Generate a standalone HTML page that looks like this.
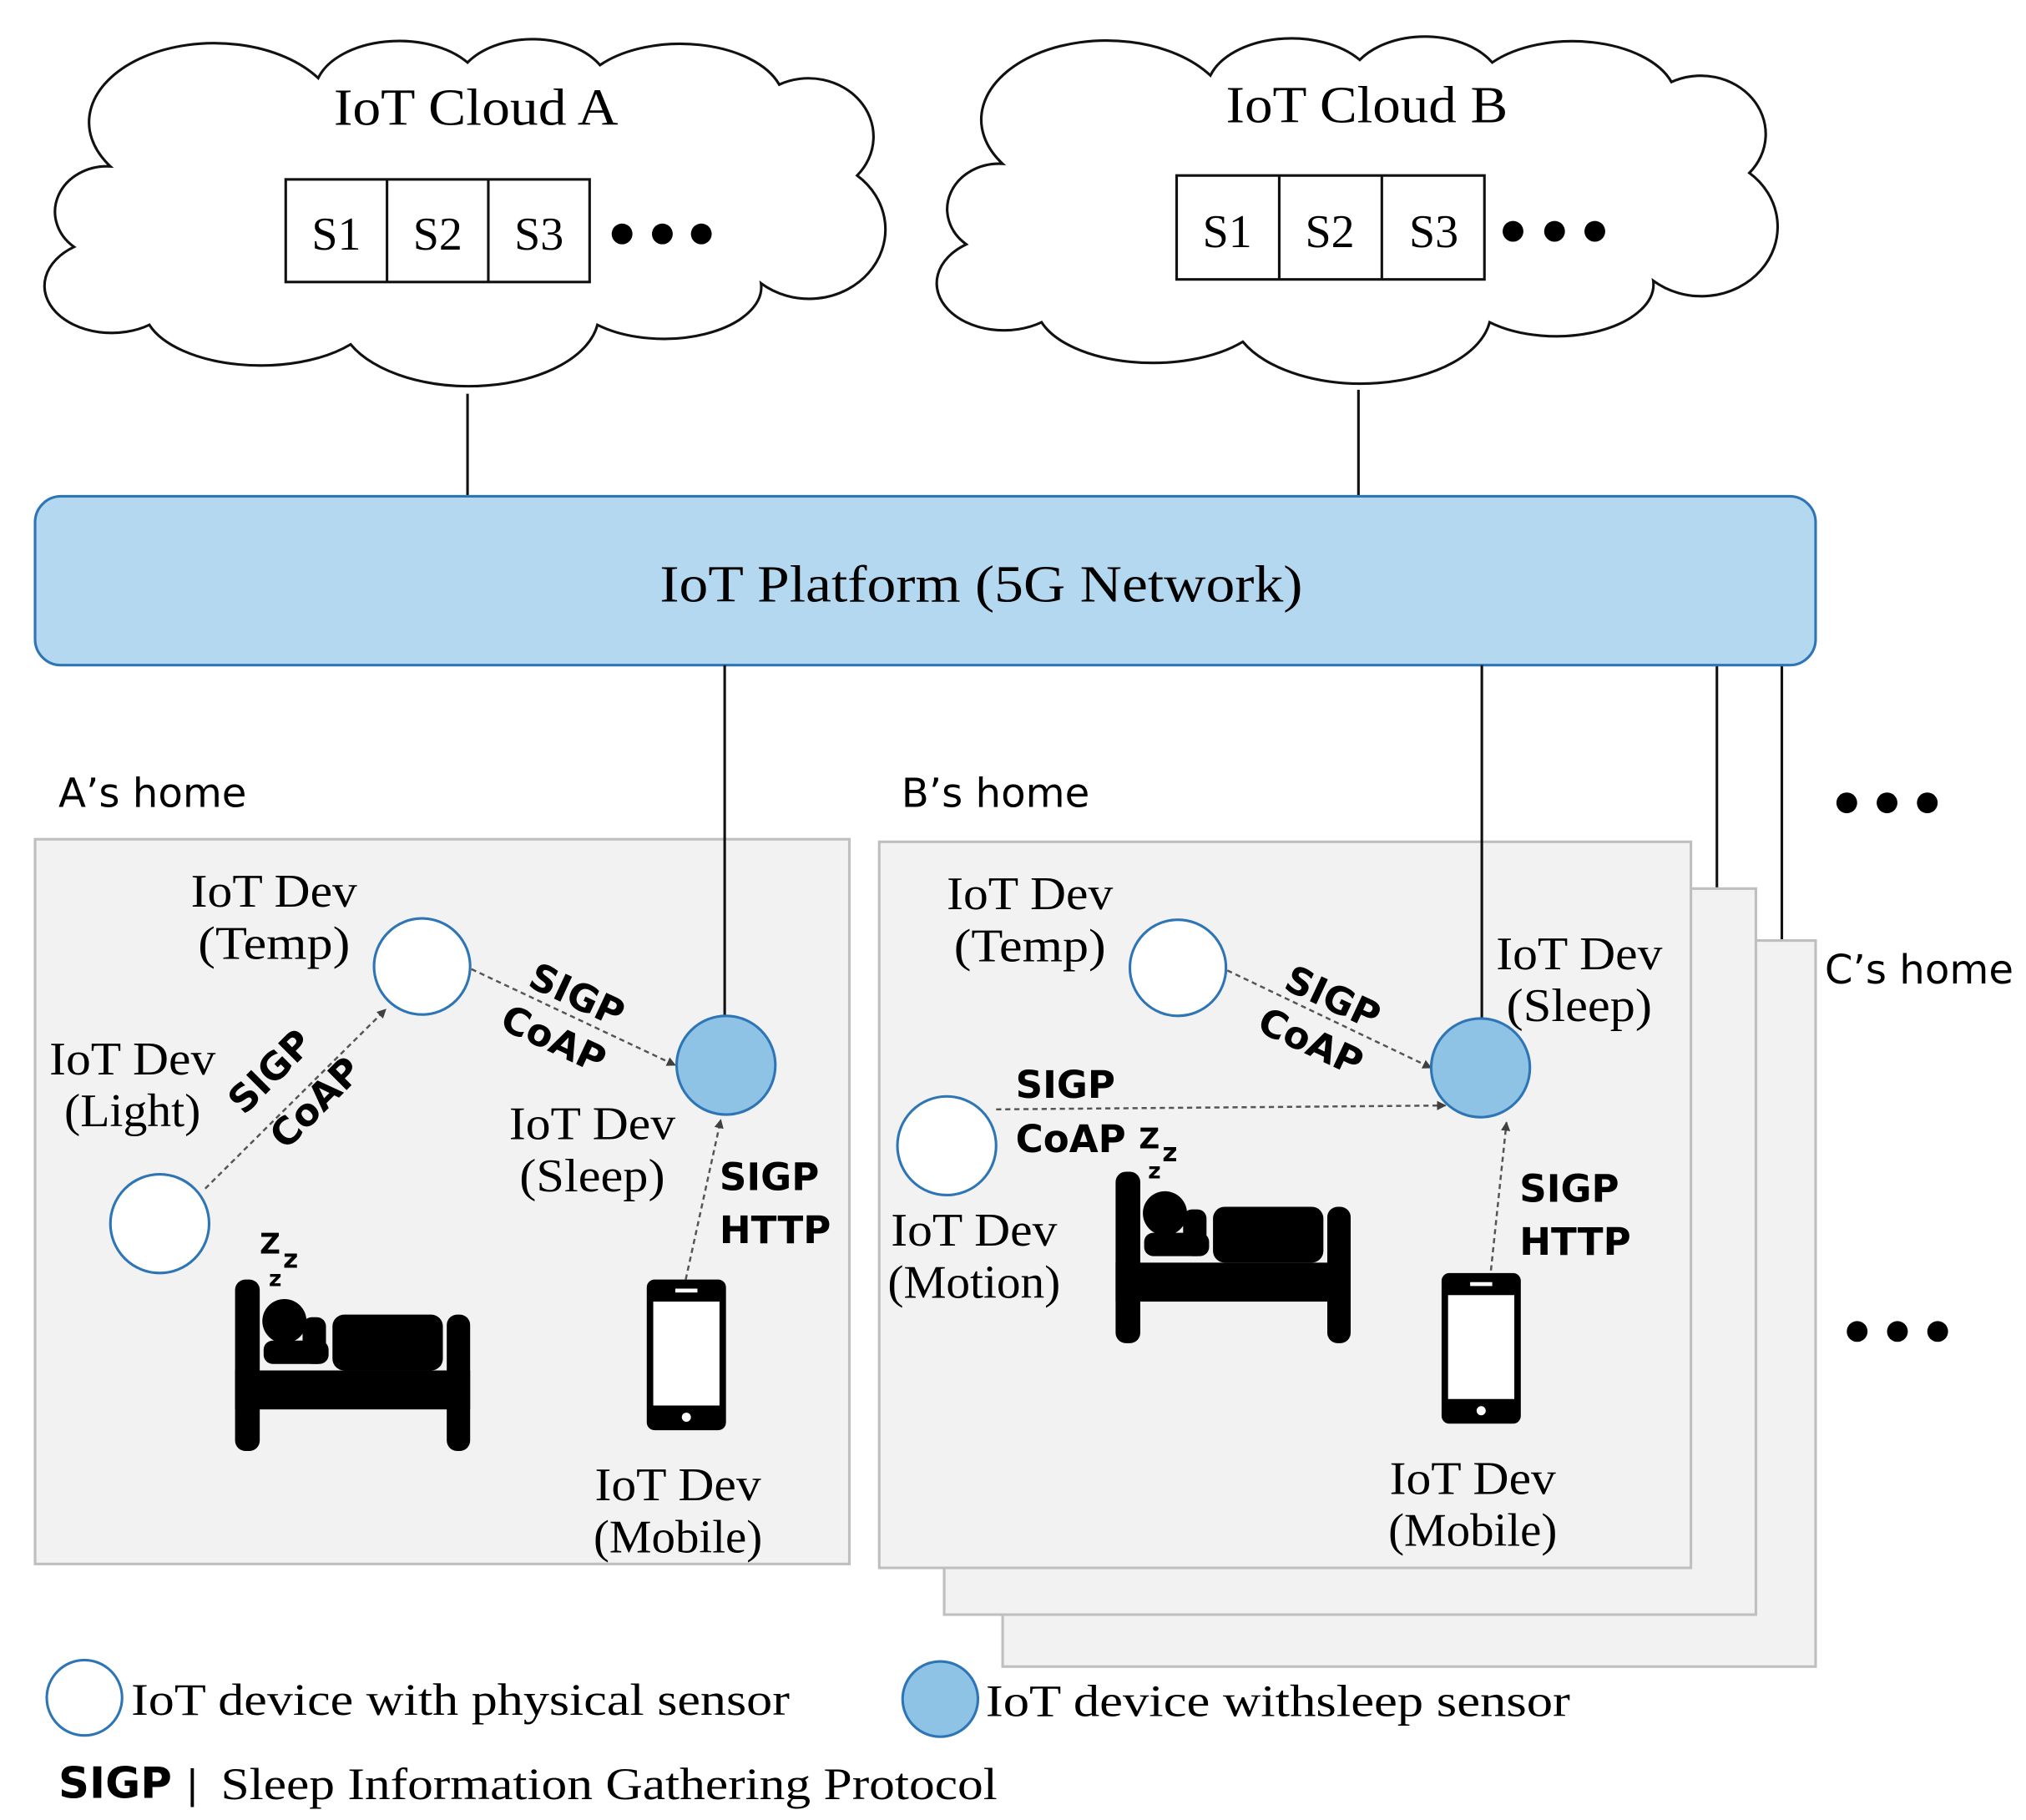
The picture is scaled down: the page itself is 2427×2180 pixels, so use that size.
<!DOCTYPE html>
<html><head><meta charset="utf-8"><style>
html,body{margin:0;padding:0;background:#fff;}
svg{display:block;}
.serif{font-family:"Liberation Serif",serif;}
.sans{font-family:"DejaVu Sans","Liberation Sans",sans-serif;}
</style></head><body>
<svg width="2427" height="2180" viewBox="0 0 1560 1401" xmlns="http://www.w3.org/2000/svg">
<defs>
<marker id="ar" viewBox="0 0 10 10" refX="9" refY="5" markerWidth="4.5" markerHeight="4.5" orient="auto"><path d="M0,0 L10,5 L0,10 z" fill="#404040"/></marker>
<g id="cloud">
<path d="M57,190 A40,35 0 0 1 85,128 A95,60 0 0 1 245,60 A65,40 0 0 1 360,48 A60,40 0 0 1 462,50 A80,45 0 0 1 600,65 A50,45 0 0 1 660,135 A55,50 0 0 1 586,218 A75,40 0 0 1 460,250 A100,55 0 0 1 270,265 A90,45 0 0 1 115,250 A50,35 0 0 1 57,190 Z" fill="#fff" stroke="#111" stroke-width="2"/>
</g>
<g id="bed">
<rect x="0" y="35" width="19" height="132" rx="8" fill="#000"/>
<rect x="0" y="105" width="181" height="30" fill="#000"/>
<rect x="163" y="62" width="18" height="105" rx="8" fill="#000"/>
<rect x="75" y="62" width="85" height="43" rx="9" fill="#000"/>
<circle cx="38" cy="67" r="17" fill="#000"/>
<rect x="22" y="82" width="50" height="18" rx="7" fill="#000"/>
<rect x="52" y="64" width="18" height="36" rx="7" fill="#000"/>
</g>
<g id="phone">
<rect x="0" y="0" width="61" height="116" rx="6" fill="#000"/>
<rect x="5" y="17" width="51" height="80" fill="#fff"/>
<rect x="22" y="7" width="17" height="3" fill="#fff"/>
<circle cx="30.5" cy="106" r="3.5" fill="#fff"/>
</g>
</defs>

<use href="#cloud"/>
<use href="#cloud" transform="translate(687,-2)"/>
<text x="257" y="96" class="serif" font-size="40" textLength="219" lengthAdjust="spacingAndGlyphs">IoT Cloud A</text>
<text x="944" y="94" class="serif" font-size="40" textLength="217" lengthAdjust="spacingAndGlyphs">IoT Cloud B</text>
<g fill="none" stroke="#111" stroke-width="2">
<rect x="220" y="138" width="234" height="79"/><line x1="298" y1="138" x2="298" y2="217"/><line x1="376" y1="138" x2="376" y2="217"/>
<rect x="906" y="135" width="237" height="80"/><line x1="985" y1="135" x2="985" y2="215"/><line x1="1064" y1="135" x2="1064" y2="215"/>
</g>
<g class="serif" font-size="36" text-anchor="middle">
<text x="259" y="192">S1</text><text x="337" y="192">S2</text><text x="415" y="192">S3</text>
<text x="945" y="190">S1</text><text x="1024" y="190">S2</text><text x="1104" y="190">S3</text>
</g>
<g fill="#000">
<circle cx="479" cy="180" r="8"/><circle cx="510" cy="180" r="8"/><circle cx="540" cy="180" r="8"/>
<circle cx="1165" cy="178" r="8"/><circle cx="1197" cy="178" r="8"/><circle cx="1228" cy="178" r="8"/>
<circle cx="1422" cy="618" r="8"/><circle cx="1453" cy="618" r="8"/><circle cx="1484" cy="618" r="8"/>
<circle cx="1430" cy="1025" r="8"/><circle cx="1461" cy="1025" r="8"/><circle cx="1492" cy="1025" r="8"/>
</g>

<g stroke="#111" stroke-width="2">
<line x1="360" y1="303" x2="360" y2="383"/>
<line x1="1046" y1="300" x2="1046" y2="383"/>
<line x1="1322" y1="511" x2="1322" y2="684"/>
<line x1="1372" y1="511" x2="1372" y2="724"/>
</g>

<rect x="27" y="382" width="1371" height="130" rx="20" fill="#b4d8ef" stroke="#2e75b6" stroke-width="2"/>
<text x="508" y="463" class="serif" font-size="40" textLength="495" lengthAdjust="spacingAndGlyphs">IoT Platform  (5G Network)</text>

<rect x="772" y="724" width="626" height="559" fill="#f2f2f2" stroke="#bfbfbf" stroke-width="2"/>
<rect x="727" y="684" width="625" height="559" fill="#f2f2f2" stroke="#bfbfbf" stroke-width="2"/>
<rect x="677" y="648" width="625" height="559" fill="#f2f2f2" stroke="#bfbfbf" stroke-width="2"/>
<rect x="27" y="646" width="627" height="558" fill="#f2f2f2" stroke="#bfbfbf" stroke-width="2"/>
<g class="sans" font-size="31">
<text x="45" y="621">A’s home</text>
<text x="694" y="621">B’s home</text>
<text x="1405" y="757">C’s home</text>
</g>

<g stroke="#111" stroke-width="2">
<line x1="558" y1="512" x2="558" y2="783"/>
<line x1="1141" y1="512" x2="1141" y2="785"/>
</g>

<g stroke="#555" stroke-width="1.6" stroke-dasharray="4,3" fill="none" marker-end="url(#ar)">
<line x1="158" y1="915" x2="297" y2="777"/>
<line x1="363" y1="746" x2="520" y2="820"/>
<line x1="528" y1="985" x2="555" y2="862"/>
<line x1="945" y1="747" x2="1102" y2="822"/>
<line x1="767" y1="854" x2="1113" y2="851"/>
<line x1="1148" y1="978" x2="1160" y2="864"/>
</g>

<g stroke="#2e75b6" stroke-width="2">
<circle cx="325" cy="744" r="37" fill="#fff"/>
<circle cx="123" cy="942" r="38" fill="#fff"/>
<circle cx="559" cy="820" r="38" fill="#8ec3e6"/>
<circle cx="907" cy="745" r="37" fill="#fff"/>
<circle cx="729" cy="882" r="38" fill="#fff"/>
<circle cx="1140" cy="822" r="38" fill="#8ec3e6"/>
<circle cx="65" cy="1307" r="29" fill="#fff"/>
<circle cx="724" cy="1308" r="29" fill="#8ec3e6"/>
</g>

<g class="serif" font-size="36" text-anchor="middle" lengthAdjust="spacingAndGlyphs">
<text x="211" y="698" textLength="128" lengthAdjust="spacingAndGlyphs">IoT Dev</text><text x="211" y="738" textLength="117" lengthAdjust="spacingAndGlyphs">(Temp)</text>
<text x="102" y="827" textLength="128" lengthAdjust="spacingAndGlyphs">IoT Dev</text><text x="102" y="867" textLength="105" lengthAdjust="spacingAndGlyphs">(Light)</text>
<text x="456" y="877" textLength="128" lengthAdjust="spacingAndGlyphs">IoT Dev</text><text x="456" y="917" textLength="112" lengthAdjust="spacingAndGlyphs">(Sleep)</text>
<text x="522" y="1155" textLength="128" lengthAdjust="spacingAndGlyphs">IoT Dev</text><text x="522" y="1195" textLength="130" lengthAdjust="spacingAndGlyphs">(Mobile)</text>
<text x="793" y="700" textLength="128" lengthAdjust="spacingAndGlyphs">IoT Dev</text><text x="793" y="740" textLength="117" lengthAdjust="spacingAndGlyphs">(Temp)</text>
<text x="1216" y="746" textLength="128" lengthAdjust="spacingAndGlyphs">IoT Dev</text><text x="1216" y="786" textLength="112" lengthAdjust="spacingAndGlyphs">(Sleep)</text>
<text x="750" y="959" textLength="128" lengthAdjust="spacingAndGlyphs">IoT Dev</text><text x="750" y="999" textLength="133" lengthAdjust="spacingAndGlyphs">(Motion)</text>
<text x="1134" y="1150" textLength="128" lengthAdjust="spacingAndGlyphs">IoT Dev</text><text x="1134" y="1190" textLength="130" lengthAdjust="spacingAndGlyphs">(Mobile)</text>
</g>

<g class="sans" font-size="29" font-weight="bold">
<text transform="translate(215,832) rotate(-45)" text-anchor="middle">SIGP</text>
<text transform="translate(250,856) rotate(-45)" text-anchor="middle">CoAP</text>
<text transform="translate(440,775) rotate(25)" text-anchor="middle">SIGP</text>
<text transform="translate(422,809) rotate(25)" text-anchor="middle">CoAP</text>
<text x="554" y="916">SIGP</text><text x="554" y="957">HTTP</text>
<text transform="translate(1022,777) rotate(25)" text-anchor="middle">SIGP</text>
<text transform="translate(1005,811) rotate(25)" text-anchor="middle">CoAP</text>
<text x="782" y="845">SIGP</text><text x="782" y="887">CoAP</text>
<text x="1170" y="925">SIGP</text><text x="1170" y="966">HTTP</text>
</g>
<g class="sans" font-weight="bold" fill="#000">
<text x="200" y="965" font-size="22">Z</text><text x="218" y="976" font-size="20">z</text><text x="207" y="990" font-size="17">z</text>
<text x="877" y="884" font-size="22">Z</text><text x="895" y="894" font-size="20">z</text><text x="884" y="907" font-size="17">z</text>
</g>

<use href="#bed" transform="translate(181,950)"/>
<use href="#bed" transform="translate(859,867)"/>
<use href="#phone" transform="translate(498,985)"/>
<use href="#phone" transform="translate(1110,980)"/>

<text x="101" y="1320" class="serif" font-size="35" textLength="507" lengthAdjust="spacingAndGlyphs">IoT device with physical sensor</text>
<text x="759" y="1321" class="serif" font-size="35" textLength="450" lengthAdjust="spacingAndGlyphs">IoT device withsleep sensor</text>
<text x="45" y="1384" class="sans" font-size="33" font-weight="bold">SIGP</text>
<text x="143" y="1384" class="sans" font-size="30">|</text>
<text x="170" y="1385" class="serif" font-size="35" textLength="598" lengthAdjust="spacingAndGlyphs">Sleep Information Gathering Protocol</text>
</svg>
</body></html>
